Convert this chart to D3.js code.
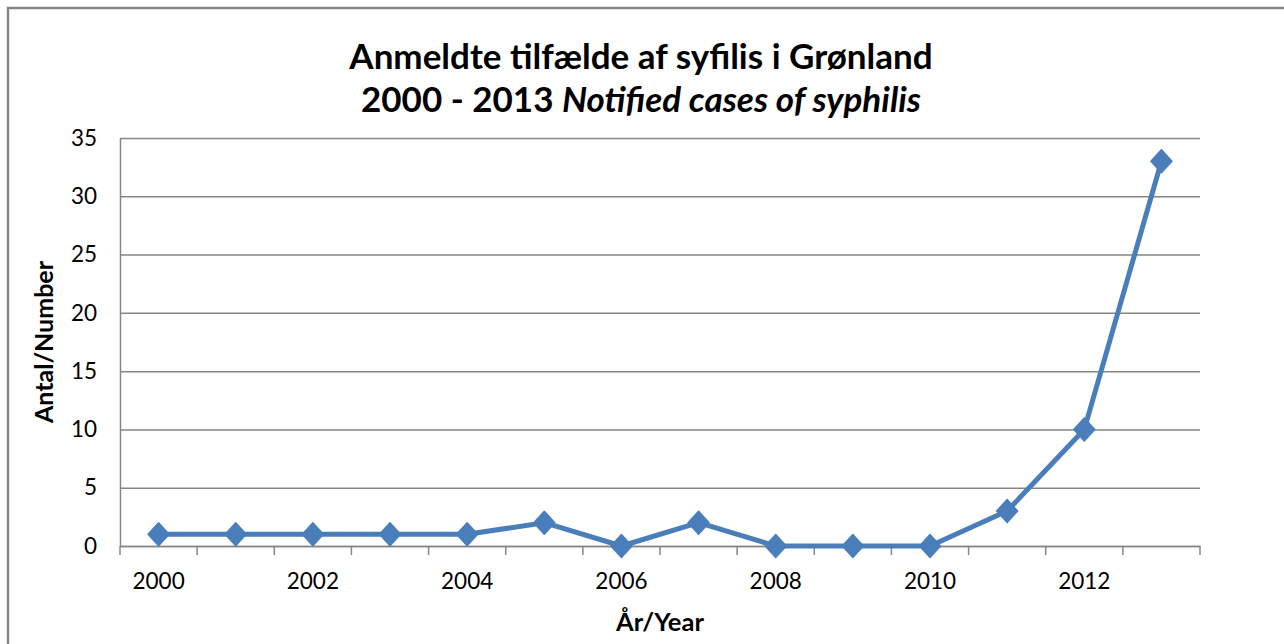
<!DOCTYPE html>
<html>
<head>
<meta charset="utf-8">
<script src="https://cdn.jsdelivr.net/npm/d3@7"></script>
<style>
  body { margin: 0; background: #fff; }
  svg text { font-family: Lato, "Open Sans", sans-serif; fill: #000; }
</style>
</head>
<body>
<svg id="chart"></svg>
<script>
// Data
const years = [2000, 2001, 2002, 2003, 2004, 2005, 2006, 2007, 2008, 2009, 2010, 2011, 2012, 2013];
const cases = [1, 1, 1, 1, 1, 2, 0, 2, 0, 0, 0, 3, 10, 33];
const yTicks = [0, 5, 10, 15, 20, 25, 30, 35];
const xLabels = [2000, 2002, 2004, 2006, 2008, 2010, 2012];

const W = 1284, H = 644;
const margin = { top: 138, right: 84, bottom: 98, left: 120 };
const width = W - margin.left - margin.right;
const height = H - margin.top - margin.bottom;

const svg = d3.select("#chart").attr("width", W).attr("height", H);

// outer frame (only top and left edges fall inside the picture)
svg.append("path")
    .attr("d", `M8,${H + 5}V8H${W + 5}`)
    .attr("fill", "none")
    .attr("stroke", "#868686")
    .attr("stroke-width", 2.5);

// Title
const title = svg.append("text")
    .attr("text-anchor", "middle")
    .style("font-weight", "bold")
    .style("font-size", "35px");
title.append("tspan").attr("x", 641).attr("y", 69).text("Anmeldte tilfælde af syfilis i Grønland");
const t2 = title.append("tspan").attr("x", 641).attr("y", 112);
t2.append("tspan").text("2000 - 2013 ");
t2.append("tspan").style("font-style", "italic").text("Notified cases of syphilis");

const g = svg.append("g").attr("transform", `translate(${margin.left},${margin.top})`);

const x = d3.scaleBand().domain(years).range([0, width]);
const y = d3.scaleLinear().domain([0, 35]).range([height, 0]);

// gridlines
g.append("g")
    .call(d3.axisLeft(y).tickValues(yTicks).tickSize(-width).tickFormat(""))
    .call(s => s.select(".domain").remove())
    .call(s => s.selectAll("line").attr("stroke", "#868686").attr("stroke-width", 1.5));

// y axis
g.append("g")
    .call(d3.axisLeft(y).tickValues(yTicks).tickSize(0).tickPadding(23))
    .call(s => s.select(".domain").attr("stroke", "#868686").attr("stroke-width", 1.5))
    .call(s => s.selectAll("text").style("font-size", "22.5px").attr("fill", "#000"));

// x axis
g.append("g")
    .attr("transform", `translate(0,${height})`)
    .call(d3.axisBottom(x).tickSize(0).tickPadding(27)
        .tickFormat(d => xLabels.includes(d) ? d : ""))
    .call(s => s.select(".domain").attr("stroke", "#868686").attr("stroke-width", 1.5))
    .call(s => s.selectAll("text").style("font-size", "22.5px").attr("fill", "#000"));

// category boundary ticks
const bounds = years.map(d => x(d)).concat([x.range()[1]]);
g.append("g").selectAll("line")
    .data(bounds)
    .enter().append("line")
    .attr("x1", d => d).attr("x2", d => d)
    .attr("y1", height).attr("y2", height + 9)
    .attr("stroke", "#868686")
    .attr("stroke-width", 1.5);

// axis titles
svg.append("text")
    .attr("transform", "translate(53,342) rotate(-90)")
    .attr("text-anchor", "middle")
    .style("font-weight", "bold")
    .style("font-size", "25px")
    .text("Antal/Number");

svg.append("text")
    .attr("x", 660).attr("y", 631)
    .attr("text-anchor", "middle")
    .style("font-weight", "bold")
    .style("font-size", "25.5px")
    .text("År/Year");

// series
const data = years.map((yr, i) => ({ year: yr, value: cases[i] }));
const cx = d => x(d.year) + x.bandwidth() / 2;

g.append("path")
    .datum(data)
    .attr("fill", "none")
    .attr("stroke", "#4a7ebb")
    .attr("stroke-width", 5)
    .attr("stroke-linejoin", "round")
    .attr("d", d3.line().x(cx).y(d => y(d.value)));

g.selectAll(".dot")
    .data(data)
    .enter().append("path")
    .attr("class", "dot")
    .attr("transform", d => `translate(${cx(d)},${y(d.value)})`)
    .attr("d", "M0,-11.5L10.5,0L0,11.5L-10.5,0Z")
    .attr("fill", "#4a7ebb")
    .attr("stroke", "#4a7ebb")
    .attr("stroke-width", 1.5)
    .attr("stroke-linejoin", "round");
</script>
</body>
</html>
